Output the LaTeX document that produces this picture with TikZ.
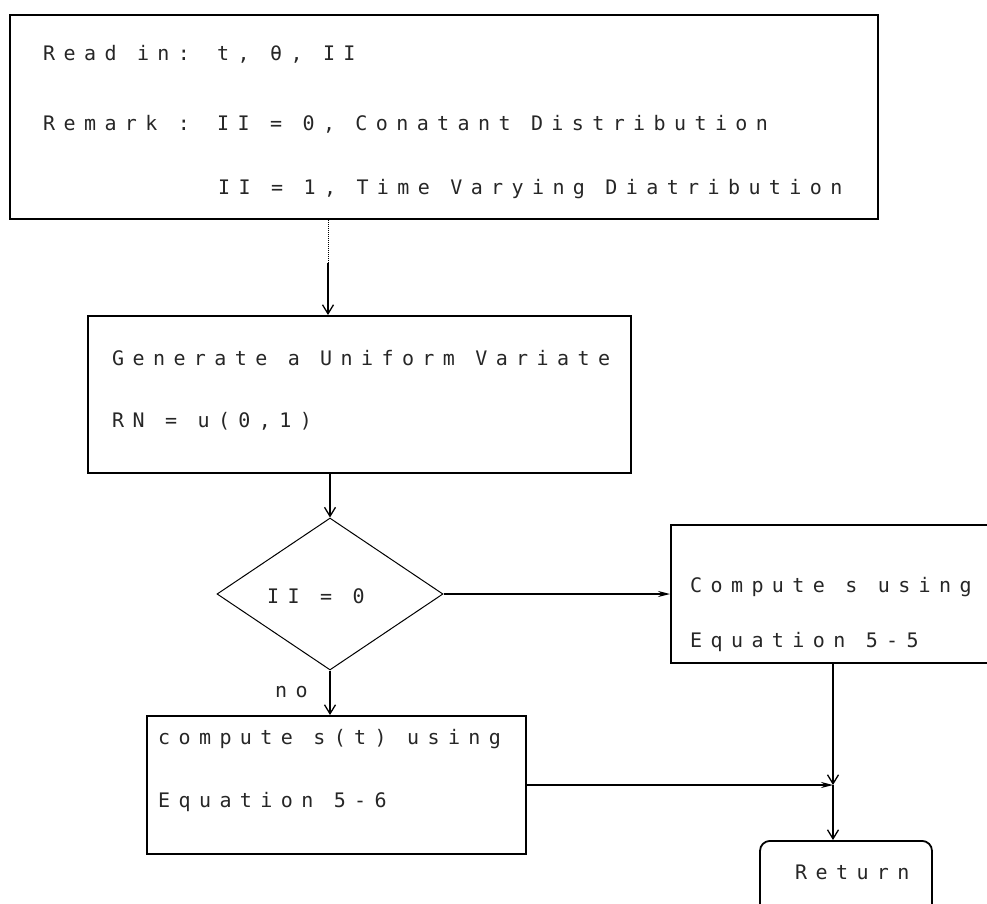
\documentclass[tikz,border=0pt]{standalone}
\usepackage{fontspec}
\newfontfamily\dotfont[LetterSpace=42]{DejaVu Sans Mono}
\usetikzlibrary{shapes.geometric,arrows.meta}
\begin{document}
\begin{tikzpicture}[x=1pt,y=-1pt,
  box/.style={draw, line width=1.8pt, rectangle, anchor=north west, inner sep=0pt},
  txt/.style={anchor=base west, inner sep=0pt, font=\dotfont\fontsize{20}{22}\selectfont, text=black!85},
  arr/.style={line width=1.3pt, -{Straight Barb[length=9pt,width=11pt]}},
  harr/.style={line width=1.3pt, -{Stealth[length=12pt,width=6pt]}},
]
\useasboundingbox (0,0) rectangle (987,904);

% boxes
\node[box, minimum width=868pt, minimum height=204pt] (top) at (9,14) {};
\node[box, minimum width=543pt, minimum height=157pt] (gen) at (87,315) {};
\node[draw, line width=1pt, shape=diamond, minimum width=226pt, minimum height=152pt, inner sep=0pt] (dia) at (330,594) {};
\node[box, minimum width=340pt, minimum height=138pt] (cs) at (670,524) {};
\node[box, minimum width=379pt, minimum height=138pt] (cst) at (146,715) {};
\node[draw, line width=1.8pt, rectangle, rounded corners=10pt, anchor=north, minimum width=172pt, minimum height=90pt] (ret) at (846,840) {};

% texts (baseline = visual centre + 7)
\node[txt] (t1) at (43,61) {Read in: t, θ, II};
\node[txt] (t2) at (43,131) {Remark : II = 0, Conatant Distribution};
\node[txt] (t3) at (218,194) {II = 1, Time Varying Diatribution};
\node[txt] (g1) at (112,365) {Generate a Uniform Variate};
\node[txt] (g2) at (112,427) {RN = u(0,1)};
\node[txt] (dt) at (267,603) {II = 0};
\node[txt] (c1) at (690,592) {Compute s using};
\node[txt] (c2) at (690,647) {Equation 5-5};
\node[txt] (d1) at (158,744) {compute s(t) using};
\node[txt] (d2) at (158,807) {Equation 5-6};
\node[txt] (no) at (275,697) {no};
\node[txt] (rt) at (795,879) {Return};

% connectors
\coordinate (k1) at (328,263);
\coordinate (j) at (833,785);
\draw[line width=1pt, densely dotted] (k1 |- top.south) -- (k1);
\draw[arr] (k1) -- (k1 |- gen.north);
\draw[arr] (dia.north |- gen.south) -- (dia.north);
\draw[harr] (dia.east) -- (dia.east -| cs.west);
\draw[arr] (dia.south) -- (dia.south |- cst.north);
\draw[harr] (j -| cst.east) -- (j);
\draw[arr] (j |- cs.south) -- (j);
\draw[arr] (j) -- (j |- ret.north);
\end{tikzpicture}
\end{document}
